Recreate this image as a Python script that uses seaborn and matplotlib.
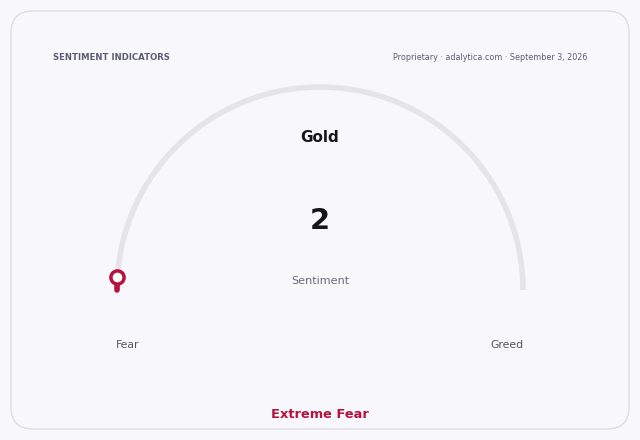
import numpy as np
import matplotlib
matplotlib.use("Agg")
import matplotlib.pyplot as plt
import seaborn as sns
from matplotlib.patches import FancyBboxPatch

# Daten
asset = "Gold"
value = 2
value_label = "Sentiment"
zone_label = "Extreme Fear"
low_label = "Fear"
high_label = "Greed"
header_left = "SENTIMENT INDICATORS"
header_right = "Proprietary · adalytica.com · September 3, 2026"

sns.set_theme(style="white")
plt.rcParams['font.family'] = ['DejaVu Sans']

bg = "#f8f8fc"
track = "#e4e4ea"
red = "#b5123e"

fig = plt.figure(figsize=(6.4, 4.4), dpi=100, facecolor=bg)
ax = fig.add_axes([0, 0, 1, 1])
ax.set_xlim(0, 640)
ax.set_ylim(440, 0)
ax.set_facecolor(bg)
ax.axis("off")

# Karte
card = FancyBboxPatch((11, 11), 618, 418, boxstyle="round,pad=0,rounding_size=22",
                      facecolor=bg, edgecolor="#dcdce6", linewidth=1.0)
ax.add_patch(card)

# Gauge
cx, cy, r = 320, 290, 203
theta = np.linspace(np.pi, 0, 300)
sns.lineplot(x=cx + r * np.cos(theta), y=cy - r * np.sin(theta), sort=False,
             ax=ax, color=track, linewidth=4, solid_capstyle="butt")

end = np.pi - value / 100 * np.pi
theta_v = np.linspace(np.pi, end, 30)
sns.lineplot(x=cx + r * np.cos(theta_v), y=cy - r * np.sin(theta_v), sort=False,
             ax=ax, color=red, linewidth=4, solid_capstyle="round")
ax.scatter([cx + r * np.cos(end)], [cy - r * np.sin(end)], s=90,
           facecolor="white", edgecolor=red, linewidth=2.5, zorder=5)

# Texte
ax.text(53, 57, header_left, fontsize=6.1, fontweight="bold", color="#5c5c70",
        ha="left", va="center")
ax.text(587, 57, header_right, fontsize=5.75, color="#5c5c70",
        ha="right", va="center")
ax.text(cx, 137, asset, fontsize=11, fontweight="bold", color="#15151a",
        ha="center", va="center")
ax.text(cx, 221, str(value), fontsize=21, fontweight="bold", color="#15151a",
        ha="center", va="center")
ax.text(cx, 281, value_label, fontsize=8.1, color="#6a6a78",
        ha="center", va="center")
ax.text(128, 345, low_label, fontsize=7.8, color="#55555f", ha="center", va="center")
ax.text(507, 345, high_label, fontsize=7.8, color="#55555f", ha="center", va="center")
ax.text(cx, 414, zone_label, fontsize=9.4, fontweight="bold", color=red,
        ha="center", va="center")

fig.savefig("out.png", dpi=100, facecolor=bg)
